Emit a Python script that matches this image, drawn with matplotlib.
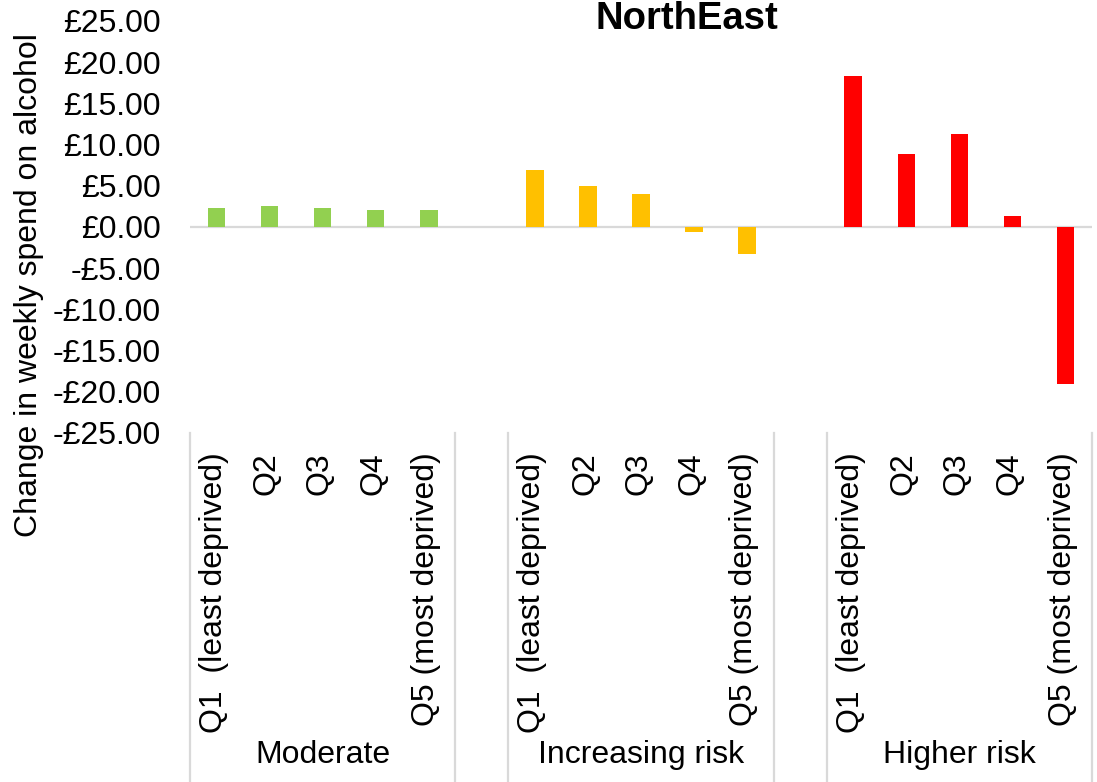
import matplotlib
matplotlib.use("Agg")
import matplotlib.pyplot as plt
import numpy as np

plt.rcParams['font.family'] = ['Liberation Sans', 'DejaVu Sans']

title = "NorthEast"
groups = ["Moderate", "Increasing risk", "Higher risk"]
quintiles = ["Q1  (least deprived)", "Q2", "Q3", "Q4", "Q5 (most deprived)"]
moderate = [2.27, 2.5, 2.27, 2.03, 2.03]
increasing = [6.9, 4.95, 3.98, -0.6, -3.3]
higher = [18.3, 8.85, 11.3, 1.3, -19.05]
colors = ["#92D050", "#FFC000", "#FF0000"]
ylabel = "Change in weekly spend on alcohol"
yticks = [-25, -20, -15, -10, -5, 0, 5, 10, 15, 20, 25]

W, H = 1097, 782
fig = plt.figure(figsize=(W / 100, H / 100), dpi=100)
ax = fig.add_axes([190 / W, 1 - 433 / H, (1092 - 190) / W, (433 - 21) / H])

series = [moderate, increasing, higher]
fs = 23
positions = []
for gi, (vals, col) in enumerate(zip(series, colors)):
    xs = np.arange(len(vals)) + gi * (len(quintiles) + 1)
    positions.append(xs)
    ax.bar(xs, vals, width=0.33, color=col, zorder=3)

ax.axhline(0, color="#D9D9D9", lw=1.6, zorder=2)
ax.set_xlim(-0.5, 16.5)
ax.set_ylim(-25, 25)
ax.set_yticks(yticks)
ax.set_yticklabels([("-£%.2f" % abs(v)) if v < 0 else ("£%.2f" % v) for v in yticks], fontsize=fs)
ax.tick_params(axis='y', length=0, pad=21)
ax.set_xticks([])
for s in ax.spines.values():
    s.set_visible(False)

trans = ax.get_xaxis_transform()
ext = -(782 - 433) / 412
seps = [-0.5, 4.5, 5.5, 10.5, 11.5, 16.5]
for sx in seps:
    ax.plot([sx, sx], [0, ext], color="#D9D9D9", lw=1.6, transform=trans, clip_on=False)

for xs, g in zip(positions, groups):
    for x, q in zip(xs, quintiles):
        ax.text(x - 0.05, -19 / 412, q, rotation=90, ha='center', va='top', fontsize=fs,
                transform=trans)
    ax.text(np.mean(xs), -(755 - 433) / 412, g, ha='center', va='center', fontsize=fs,
            transform=trans)

fig.text(29 / W, 1 - 285 / H, ylabel, rotation=90, ha='center', va='center', fontsize=fs)
fig.text(687 / W, 1 - 19 / H, title, ha='center', va='center', fontsize=27.5, fontweight='bold')

fig.savefig("out.png", dpi=100)
